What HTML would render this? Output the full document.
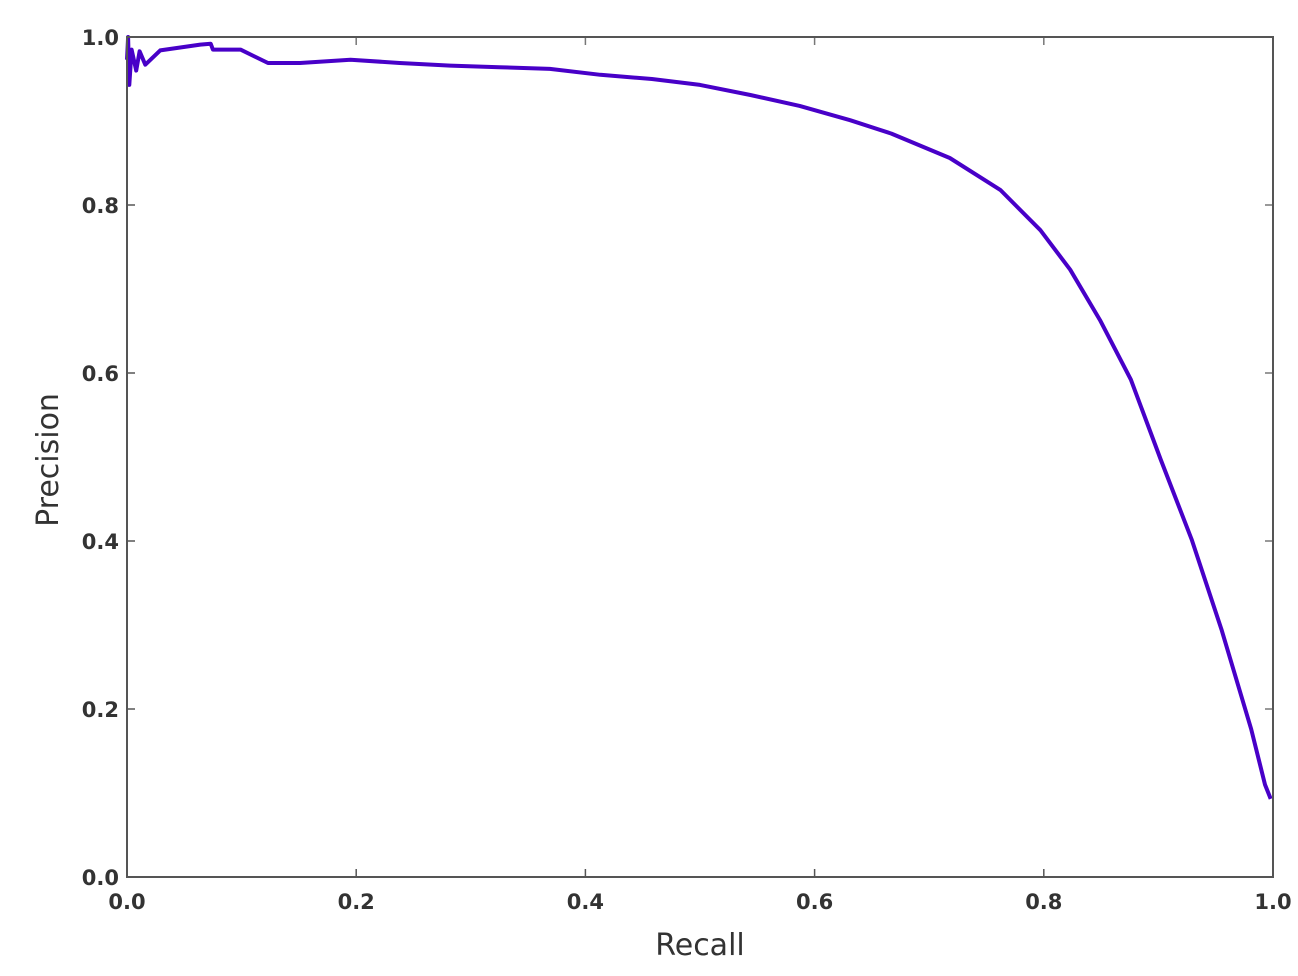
<!DOCTYPE html>
<html><head><meta charset="utf-8"><style>
html,body{margin:0;padding:0;background:#fff;}
svg{display:block;font-family:"DejaVu Sans","Liberation Sans",sans-serif;}
</style></head><body>
<svg id="chart" width="1298" height="976">
<g id="grid-ticks"></g>
<path id="curve" fill="none" stroke="#4800c8" stroke-width="4" stroke-linejoin="round"/>
<rect x="127" y="37" width="1146" height="840" fill="none" stroke="#555" stroke-width="2"/>
<text x="700" y="955" font-size="30" text-anchor="middle" fill="#333">Recall</text>
<text transform="translate(58,460) rotate(-90)" font-size="30" text-anchor="middle" fill="#333">Precision</text>
</svg>
<script>
const xTicks=[0,0.2,0.4,0.6,0.8,1.0];
const yTicks=[0,0.2,0.4,0.6,0.8,1.0];
const recall=[0,0.001,0.002,0.004,0.008,0.011,0.016,0.029,0.064,0.073,0.075,0.099,0.123,0.151,0.195,0.238,0.282,0.325,0.369,0.413,0.458,0.500,0.544,0.587,0.631,0.667,0.718,0.762,0.797,0.823,0.849,0.876,0.902,0.929,0.955,0.981,0.993,0.998];
const precision=[0.973,1.0,0.943,0.985,0.96,0.983,0.967,0.984,0.991,0.992,0.985,0.985,0.969,0.969,0.973,0.969,0.966,0.964,0.962,0.955,0.950,0.943,0.931,0.918,0.901,0.885,0.856,0.818,0.770,0.723,0.663,0.592,0.497,0.402,0.295,0.176,0.110,0.093];
const L=127,R=1273,T=37,B=877;
const sx=v=>L+v*(R-L), sy=v=>B-v*(B-T);
const ns="http://www.w3.org/2000/svg";
const g=document.getElementById('grid-ticks');
function mk(tag,attrs,parent,text){const e=document.createElementNS(ns,tag);for(const k in attrs)e.setAttribute(k,attrs[k]);if(text!==undefined)e.textContent=text;parent.appendChild(e);return e;}
xTicks.forEach(v=>{
  const t=mk('line',{x1:sx(v),x2:sx(v),y1:B,y2:B-8,stroke:'#555','stroke-width':1.5},g);
  
  
  const t2=mk('line',{x1:sx(v),x2:sx(v),y1:T,y2:T+8,stroke:'#777','stroke-width':1.5},g);
  
  
  const l=mk('text',{x:sx(v),y:B+32,'font-size':21,'font-weight':'bold','text-anchor':'middle',fill:'#333'},g,v.toFixed(1));
  
  
});
yTicks.forEach(v=>{
  const t=mk('line',{x1:L,x2:L+8,y1:sy(v),y2:sy(v),stroke:'#555','stroke-width':1.5},g);
  
  
  const t2=mk('line',{x1:R,x2:R-8,y1:sy(v),y2:sy(v),stroke:'#777','stroke-width':1.5},g);
  
  
  const l=mk('text',{x:L-8,y:sy(v)+8,'font-size':21,'font-weight':'bold','text-anchor':'end',fill:'#333'},g,v.toFixed(1));
  
  
});
document.getElementById('curve').setAttribute('d',recall.map((r,i)=>(i?'L':'M')+sx(r).toFixed(1)+' '+sy(precision[i]).toFixed(1)).join(' '));
</script>
</body></html>
